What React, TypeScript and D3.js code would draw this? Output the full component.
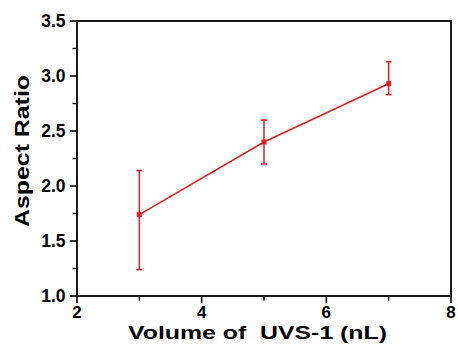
import React from "react";
import * as d3 from "d3";

const volumes = [3, 5, 7];
const aspectRatios = [1.74, 2.4, 2.93];
const errUpper = [2.14, 2.6, 3.13];
const errLower = [1.24, 2.2, 2.83];
const xTicks = [2, 4, 6, 8];
const yTicks = [1.0, 1.5, 2.0, 2.5, 3.0, 3.5];
const xMinor = [3, 5, 7];
const yMinor = [1.25, 1.75, 2.25, 2.75, 3.25];

export default function App() {
  const W = 458, H = 347;
  const left = 77, right = 451, top = 21, bottom = 296;
  const x = d3.scaleLinear().domain([2, 8]).range([left, right]);
  const y = d3.scaleLinear().domain([1, 3.5]).range([bottom, top]);
  const red = "#ec1c24";
  const font = "Arial, 'Liberation Sans', sans-serif";
  const line = d3.line<number>().x((_, i) => x(volumes[i])).y((d) => y(d));
  return (
    <svg width={W} height={H} style={{ position: "absolute", left: 0, top: 0, background: "#fff" }}>
      <rect x={left} y={top} width={right - left} height={bottom - top} fill="none" stroke="#000" strokeWidth={1.8} />
      {yTicks.map((t) => (
        <g key={"y" + t}>
          <line x1={left - 7} x2={left} y1={y(t)} y2={y(t)} stroke="#000" strokeWidth={1.6} />
          <text x={left - 11.5} y={y(t)} dy="0.36em" textAnchor="end" fontFamily={font} fontWeight="bold" fontSize={17.5}>{t.toFixed(1)}</text>
        </g>
      ))}
      {yMinor.map((t) => (
        <line key={"ym" + t} x1={left - 4.5} x2={left} y1={y(t)} y2={y(t)} stroke="#000" strokeWidth={1.4} />
      ))}
      {xTicks.map((t) => (
        <g key={"x" + t}>
          <line x1={x(t)} x2={x(t)} y1={bottom} y2={bottom + 7} stroke="#000" strokeWidth={1.6} />
          <text x={x(t)} y={bottom + 21.5} textAnchor="middle" fontFamily={font} fontWeight="bold" fontSize={17}>{t}</text>
        </g>
      ))}
      {xMinor.map((t) => (
        <line key={"xm" + t} x1={x(t)} x2={x(t)} y1={bottom} y2={bottom + 4.5} stroke="#000" strokeWidth={1.4} />
      ))}
      <path d={line(aspectRatios) || ""} fill="none" stroke={red} strokeWidth={1.5} />
      {volumes.map((v, i) => (
        <g key={"e" + v} stroke={red} strokeWidth={1.5}>
          <line x1={x(v)} x2={x(v)} y1={y(errUpper[i])} y2={y(errLower[i])} />
          <line x1={x(v) - 3} x2={x(v) + 3} y1={y(errUpper[i])} y2={y(errUpper[i])} />
          <line x1={x(v) - 3} x2={x(v) + 3} y1={y(errLower[i])} y2={y(errLower[i])} />
          <rect x={x(v) - 2.5} y={y(aspectRatios[i]) - 2.5} width={5} height={5} fill={red} stroke="none" />
        </g>
      ))}
      <text x={128} y={339} fontFamily={font} fontWeight="bold" fontSize={19} textLength={259} lengthAdjust="spacingAndGlyphs" xmlSpace="preserve">Volume of  UVS-1 (nL)</text>
      <text transform={`translate(29, 227) rotate(-90)`} fontFamily={font} fontWeight="bold" fontSize={20} textLength={152} lengthAdjust="spacingAndGlyphs">Aspect Ratio</text>
    </svg>
  );
}
